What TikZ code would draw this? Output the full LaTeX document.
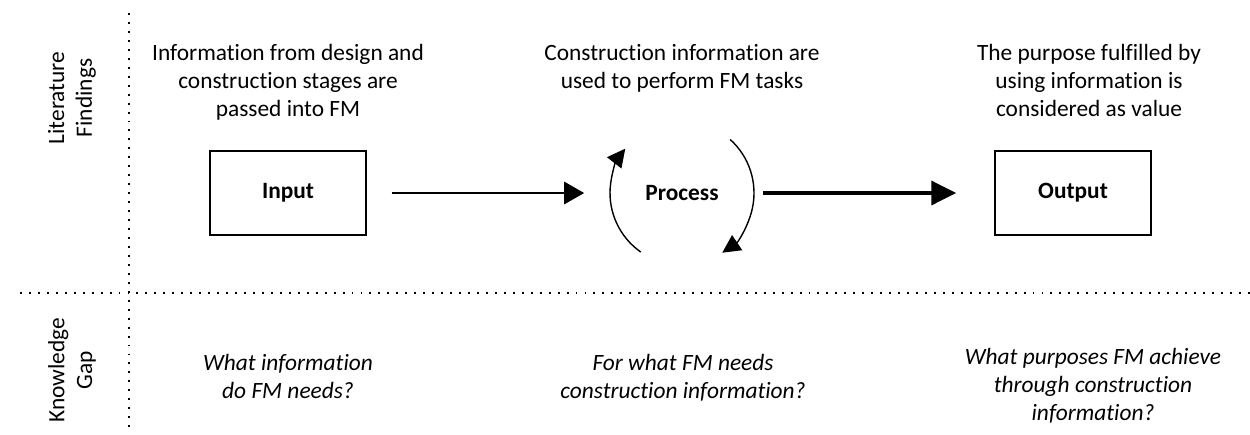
\documentclass[tikz,border=0pt]{standalone}
\usepackage{fontspec}
\setmainfont{Carlito}[Ligatures=NoCommon]
\usetikzlibrary{arrows.meta}
\def\txt{\fontsize{13.3}{15.9}\selectfont}
\def\dotline{\draw[line width=1.1pt,dash pattern=on 1.1pt off 4pt]}

\begin{document}
\begin{tikzpicture}[x=0.02cm,y=0.02cm,
    stage/.style={draw,line width=0.8pt,minimum width=3.12cm,minimum height=1.68cm,font=\txt\bfseries},
    note/.style={align=center,anchor=north,font=\txt},
    ask/.style={align=center,anchor=north,font=\txt\itshape},
    side/.style={align=center,rotate=90,font=\txt},
    flow/.style={line width=1.7pt,-{Triangle[length=0.4cm,width=0.44cm]}},
    bigflow/.style={line width=2.8pt,-{Triangle[length=0.5cm,width=0.47cm]}},
    cyc/.style={line width=0.8pt,-{Triangle[length=0.36cm,width=0.36cm]}}]
                \useasboundingbox (0,0) rectangle (1250,434);
                \dotline (129,421) -- (129,0);
                \dotline (20,141) -- (1250,141);
                \node[side] (lit) at (72,336) {Literature\\Findings};
                \node[side] (gap) at (72,64) {Knowledge\\Gap};
                \node[stage] (in) at (288,241) {Input};
                \node[font=\txt\bfseries] (proc) at (682,241) {Process};
                \node[stage] (out) at (1073,241) {Output};
                \draw[flow,shorten <=0.5cm,shorten >=1.1cm] (in.east) -- (proc.west);
                \draw[bigflow,shorten <=0.76cm,shorten >=0.76cm] (proc.east) -- (out.west);
                \draw[cyc] ([shift={(235:72)}]proc.center) arc[start angle=235,end angle=142,radius=72];
                \draw[cyc] ([shift={(48:72)}]proc.center) arc[start angle=48,end angle=-56,radius=72];
                \node[note] (intxt) at (288,396) {Information from design and\\construction stages are\\passed into FM};
                \node[note] (proctxt) at (682,396) {Construction information are\\used to perform FM tasks};
                \node[note] (outtxt) at (1089,396) {The purpose fulfilled by\\using information is\\considered as value};
                \node[ask] (inq) at (288,86) {What information\\do FM needs?};
                \node[ask] (procq) at (683,86) {For what FM needs\\construction information?};
                \node[ask] (outq) at (1093,92) {What purposes FM achieve\\through construction\\information?};
            \end{tikzpicture}
\end{document}
